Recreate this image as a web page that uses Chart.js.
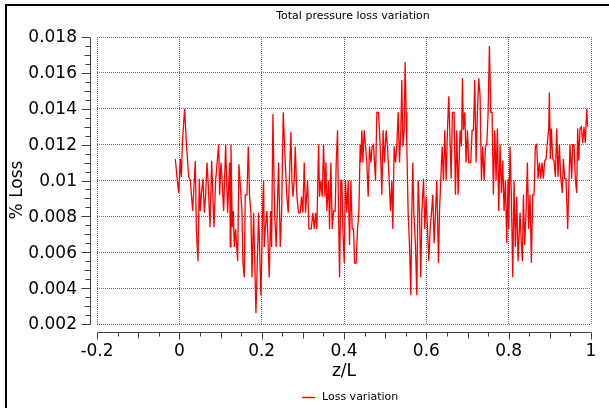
<!DOCTYPE html>
<html>
<head>
<meta charset="utf-8">
<script src="https://cdn.jsdelivr.net/npm/chart.js@4.4.1/dist/chart.umd.min.js"></script>
<style>
  html, body { margin: 0; padding: 0; background: #fff; }
  #wrap { width: 609px; height: 408px; }
</style>
</head>
<body>
<div id="wrap"><canvas id="lossChart" width="609" height="408"></canvas></div>
<script>
// ---- data ----
const zValues = [
  -0.0097,-0.0057,-0.0016,0.0024,0.0049,0.0073,0.0129,0.0170,0.0227,0.0267,0.0324,0.0388,0.0413,0.0453,0.0485,0.0510,0.0534,0.0574,0.0607,0.0639,
  0.0672,0.0704,0.0744,0.0785,0.0841,0.0882,0.0955,0.0979,0.1011,0.1036,0.1076,0.1125,0.1173,0.1222,0.1238,0.1254,0.1286,0.1311,0.1335,0.1367,
  0.1416,0.1448,
  0.1521,0.1545,0.1578,0.1602,0.1643,0.1675,0.1707,0.1739,0.1764,0.1804,0.1861,0.1925,0.1982,0.2031,0.2047,0.2063,0.2087,0.2128,0.2184,0.2217,
  0.2241,0.2273,0.2314,0.2354,0.2411,0.2451,0.2484,0.2524,0.2573,0.2613,0.2646,0.2710,0.2735,0.2759,0.2791,0.2816,0.2856,0.2896,0.2937,0.2969,
  0.3002,0.3034,0.3066,0.3115,0.3147,
  0.3204,0.3244,0.3277,0.3309,0.3341,0.3382,0.3406,0.3438,0.3471,0.3503,0.3536,0.3560,0.3584,0.3625,0.3649,0.3681,0.3714,0.3746,0.3786,0.3811,
  0.3843,0.3867,0.3892,0.3924,0.3948,0.3972,0.4005,0.4037,0.4070,0.4102,0.4134,0.4167,0.4199,0.4231,0.4256,0.4296,0.4328,0.4361,0.4393,0.4409,
  0.4434,0.4458,0.4490,0.4523,0.4555,0.4587,0.4620,0.4652,0.4684,0.4717,0.4765,0.4798,0.4838,0.4862,0.4895,0.4919,0.4951,0.4984,
  0.5024,0.5057,0.5097,0.5129,0.5162,0.5186,0.5218,0.5251,0.5283,0.5316,0.5348,0.5380,0.5405,0.5429,0.5461,0.5485,0.5510,0.5526,0.5558,0.5591,
  0.5623,0.5647,0.5672,0.5696,0.5736,0.5769,0.5801,0.5833,0.5866,0.5890,0.5931,0.5963,0.5995,0.6028,0.6060,0.6092,0.6125,0.6157,0.6189,0.6222,
  0.6254,0.6295,0.6319,0.6351,0.6383,0.6416,0.6448,0.6481,0.6513,0.6545,
  0.6602,0.6634,0.6675,0.6707,0.6740,0.6772,0.6820,0.6853,0.6877,0.6901,0.6934,0.6966,0.6998,0.7031,0.7079,0.7112,0.7144,0.7176,0.7209,0.7241,
  0.7273,0.7306,0.7338,0.7370,0.7403,0.7435,0.7468,0.7500,0.7532,0.7565,0.7597,0.7629,0.7662,0.7694,0.7726,0.7759,0.7791,0.7824,0.7856,0.7888,
  0.7921,0.7953,0.7985,0.8002,0.8034,0.8066,0.8099,0.8131,0.8163,0.8196,0.8228,0.8260,
  0.8277,0.8309,0.8333,0.8358,0.8390,0.8422,0.8455,0.8487,0.8519,0.8552,0.8584,0.8617,0.8649,0.8681,0.8714,0.8746,0.8778,0.8811,0.8843,0.8875,
  0.8908,0.8940,0.8973,0.8989,0.9013,0.9037,0.9070,0.9102,0.9134,0.9167,0.9199,0.9231,0.9264,0.9304,0.9328,0.9361,0.9393,0.9434,0.9466,0.9490,
  0.9531,0.9555,0.9587,0.9620,0.9652,0.9676,0.9701,0.9733,0.9765,0.9798,0.9830,0.9862,0.9895,0.9919
];
const lossValues = [
  0.0112,0.0102,0.0093,0.0112,0.0102,0.0121,0.0140,0.0121,0.0102,0.0100,0.0083,0.0111,0.0073,0.0055,0.0101,0.0083,0.0092,0.0101,0.0082,0.0092,
  0.0110,0.0097,0.0074,0.0111,0.0074,0.0100,0.0120,0.0092,0.0110,0.0101,0.0083,0.0120,0.0082,0.0110,0.0063,0.0120,0.0074,0.0083,0.0063,0.0073,
  0.0055,0.0109,
  0.0083,0.0054,0.0046,0.0092,0.0092,0.0119,0.0091,0.0082,0.0046,0.0082,0.0026,0.0082,0.0036,0.0091,0.0100,0.0063,0.0073,0.0083,0.0046,0.0083,
  0.0063,0.0137,0.0082,0.0063,0.0110,0.0063,0.0082,0.0138,0.0110,0.0091,0.0082,0.0127,0.0100,0.0091,0.0100,0.0119,0.0091,0.0082,0.0082,0.0091,
  0.0082,0.0110,0.0082,0.0100,0.0073,
  0.0073,0.0082,0.0073,0.0082,0.0073,0.0120,0.0091,0.0100,0.0091,0.0120,0.0091,0.0110,0.0083,0.0100,0.0073,0.0110,0.0073,0.0083,0.0083,0.0110,
  0.0128,0.0082,0.0046,0.0100,0.0100,0.0073,0.0054,0.0100,0.0082,0.0100,0.0064,0.0100,0.0073,0.0073,0.0054,0.0054,0.0073,0.0082,0.0120,0.0110,
  0.0128,0.0110,0.0128,0.0119,0.0110,0.0091,0.0119,0.0110,0.0119,0.0120,0.0100,0.0138,0.0138,0.0128,0.0110,0.0092,0.0128,0.0110,
  0.0128,0.0119,0.0100,0.0083,0.0100,0.0073,0.0119,0.0110,0.0119,0.0138,0.0110,0.0128,0.0156,0.0119,0.0128,0.0166,0.0138,0.0119,0.0082,0.0064,
  0.0036,0.0082,0.0110,0.0082,0.0064,0.0036,0.0100,0.0082,0.0046,0.0082,0.0101,0.0073,0.0091,0.0073,0.0055,0.0073,0.0082,0.0092,0.0065,0.0082,
  0.0100,0.0054,0.0082,0.0100,0.0119,0.0100,0.0128,0.0100,0.0128,0.0147,
  0.0101,0.0138,0.0138,0.0092,0.0128,0.0092,0.0128,0.0119,0.0157,0.0128,0.0138,0.0110,0.0128,0.0110,0.0110,0.0128,0.0128,0.0156,0.0110,0.0138,
  0.0157,0.0147,0.0100,0.0119,0.0100,0.0119,0.0120,0.0137,0.0175,0.0138,0.0138,0.0092,0.0128,0.0100,0.0129,0.0083,0.0120,0.0093,0.0111,0.0083,
  0.0100,0.0065,0.0101,0.0073,0.0119,0.0091,0.0046,0.0100,0.0063,0.0091,0.0055,0.0073,
  0.0082,0.0064,0.0055,0.0092,0.0064,0.0082,0.0110,0.0073,0.0092,0.0054,0.0092,0.0092,0.0119,0.0120,0.0101,0.0110,0.0101,0.0110,0.0101,0.0111,
  0.0112,0.0121,0.0129,0.0149,0.0112,0.0129,0.0112,0.0111,0.0102,0.0129,0.0102,0.0120,0.0102,0.0093,0.0112,0.0101,0.0101,0.0073,0.0101,0.0120,
  0.0101,0.0120,0.0120,0.0101,0.0093,0.0129,0.0111,0.0129,0.0130,0.0121,0.0130,0.0121,0.0140,0.0130
];
const xTicks = [-0.2, 0, 0.2, 0.4, 0.6, 0.8, 1];
const xTickLabels = ['-0.2', '0', '0.2', '0.4', '0.6', '0.8', '1'];
const yTicks = [0.002, 0.004, 0.006, 0.008, 0.01, 0.012, 0.014, 0.016, 0.018];
const yTickLabels = ['0.002', '0.004', '0.006', '0.008', '0.01', '0.012', '0.014', '0.016', '0.018'];
const xMinorStep = 0.05, yMinorStep = 0.0005;

const FONT = '"DejaVu Sans", Verdana, sans-serif';

// axes drawn offset from the canvas, Qwt style
const offsetAxes = {
  id: 'offsetAxes',
  afterDraw(chart) {
    const { ctx, chartArea: a, scales: { x, y } } = chart;
    ctx.save();
    // widget frame (left + top)
    ctx.fillStyle = '#000';
    ctx.fillRect(5, 4, 2, 404);
    ctx.fillRect(5, 4, 604, 2);

    const axX = 90.5, axY = 332.5;
    ctx.strokeStyle = '#404040';
    ctx.lineWidth = 1;
    ctx.beginPath();
    // y axis
    ctx.moveTo(axX, Math.round(y.getPixelForValue(0.018)) + 0.5);
    ctx.lineTo(axX, Math.round(y.getPixelForValue(0.002)) + 0.5);
    for (let k = 0; k <= 32; k++) {
      const v = 0.002 + k * yMinorStep;
      const py = Math.round(y.getPixelForValue(v)) + 0.5;
      const len = k % 4 === 0 ? 9 : (k % 2 === 0 ? 6 : 5);
      ctx.moveTo(axX - len, py); ctx.lineTo(axX, py);
    }
    // x axis
    ctx.moveTo(Math.round(x.getPixelForValue(-0.2)) + 0.5, axY);
    ctx.lineTo(Math.round(x.getPixelForValue(1)) + 0.5, axY);
    for (let k = 0; k <= 24; k++) {
      const v = -0.2 + k * xMinorStep;
      const px = Math.round(x.getPixelForValue(v)) + 0.5;
      const len = k % 4 === 0 ? 7 : (k % 2 === 0 ? 6 : 4);
      ctx.moveTo(px, axY); ctx.lineTo(px, axY + len);
    }
    ctx.stroke();

    // tick labels
    ctx.fillStyle = '#000';
    ctx.font = '17px ' + FONT;
    ctx.textAlign = 'right'; ctx.textBaseline = 'middle';
    yTicks.forEach((v, i) => ctx.fillText(yTickLabels[i], 77, y.getPixelForValue(v) + 1));
    ctx.textAlign = 'center'; ctx.textBaseline = 'top';
    xTicks.forEach((v, i) => ctx.fillText(xTickLabels[i], x.getPixelForValue(v), 343));

    // axis titles
    ctx.fillText('z/L', (a.left + a.right) / 2, 363);
    ctx.save();
    ctx.translate(18, 190);
    ctx.rotate(-Math.PI / 2);
    ctx.textBaseline = 'middle';
    ctx.fillText('% Loss', 0, 0);
    ctx.restore();

    // title
    ctx.font = '11px ' + FONT;
    ctx.textBaseline = 'middle';
    ctx.fillText('Total pressure loss variation', 353, 16);

    // legend
    ctx.strokeStyle = '#ff0000';
    ctx.lineWidth = 1.5;
    ctx.beginPath(); ctx.moveTo(302, 397.5); ctx.lineTo(315, 397.5); ctx.stroke();
    ctx.textAlign = 'left';
    ctx.fillText('Loss variation', 322, 397);
    ctx.restore();
  }
};

const gridOpts = { color: '#6a6a6a', lineWidth: 1, drawTicks: false };

new Chart(document.getElementById('lossChart'), {
  type: 'line',
  data: {
    datasets: [{
      label: 'Loss variation',
      data: zValues.map((z, i) => ({ x: z, y: lossValues[i] })),
      borderColor: '#ff0000',
      borderWidth: 1.3,
      pointRadius: 0,
      tension: 0,
      fill: false
    }]
  },
  options: {
    responsive: false,
    animation: false,
    layout: { padding: { left: 97, right: 18, top: 37, bottom: 84 } },
    plugins: { legend: { display: false }, title: { display: false }, tooltip: { enabled: false } },
    scales: {
      x: {
        type: 'linear', min: -0.2, max: 1,
        grid: gridOpts,
        border: { display: false, dash: [1, 1] },
        ticks: { display: false },
        afterBuildTicks: s => { s.ticks = xTicks.map(v => ({ value: v })); },
        afterFit: s => { s.height = 0; }
      },
      y: {
        type: 'linear', min: 0.002, max: 0.018,
        grid: gridOpts,
        border: { display: false, dash: [1, 1] },
        ticks: { display: false },
        afterBuildTicks: s => { s.ticks = yTicks.map(v => ({ value: v })); },
        afterFit: s => { s.width = 0; }
      }
    }
  },
  plugins: [offsetAxes]
});
</script>
</body>
</html>
